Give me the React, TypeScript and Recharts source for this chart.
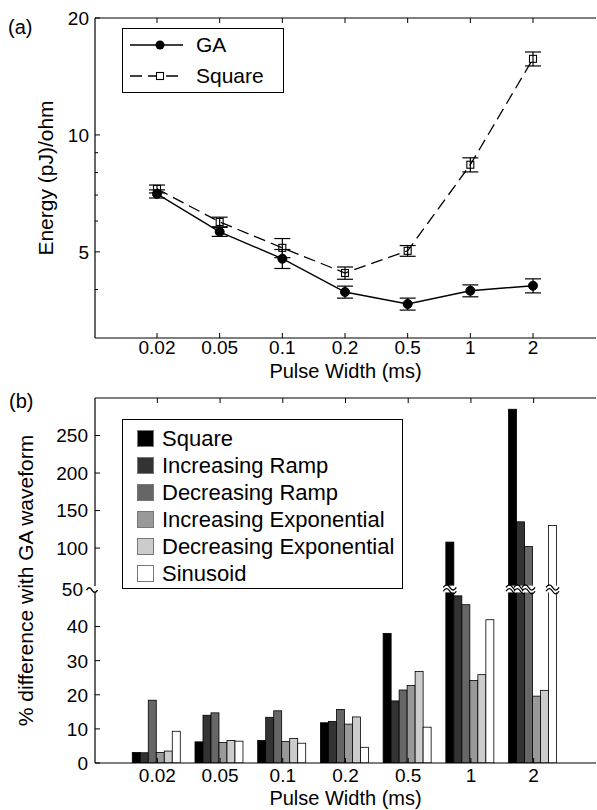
import { Bar, BarChart, ErrorBar, Legend, Line, LineChart, XAxis, YAxis } from 'recharts'

const pulseWidths = ['0.02', '0.05', '0.1', '0.2', '0.5', '1', '2']

// (a) energy per ohm (pJ/ohm), mean ± error
const gaEnergy = [7.05, 5.63, 4.8, 3.94, 3.67, 3.97, 4.09]
const gaError = [0.17, 0.15, 0.27, 0.14, 0.13, 0.14, 0.17]
const squareEnergy = [7.26, 5.97, 5.12, 4.41, 5.03, 8.38, 15.7]
const squareError = [0.17, 0.17, 0.29, 0.16, 0.16, 0.35, 0.65]

const energyTicks = [4, 5, 6, 7, 8, 9, 10, 20]
const energyTickLabels = ['', '5', '', '', '', '', '10', '20']

// (b) % difference with GA waveform
const waveforms = [
  'Square',
  'Increasing Ramp',
  'Decreasing Ramp',
  'Increasing Exponential',
  'Decreasing Exponential',
  'Sinusoid',
]
const waveformFills = ['#000000', '#333333', '#666666', '#999999', '#cccccc', '#ffffff']
const squareDiff = [3.1, 6.2, 6.6, 11.8, 38.0, 108, 285]
const incRampDiff = [3.0, 14.0, 13.4, 12.2, 18.2, 49, 135]
const decRampDiff = [18.4, 14.7, 15.3, 15.7, 21.4, 46.4, 102]
const incExpDiff = [3.1, 6.0, 6.3, 11.4, 22.7, 24.2, 19.6]
const decExpDiff = [3.5, 6.6, 7.2, 13.5, 26.8, 25.9, 21.3]
const sinusoidDiff = [9.3, 6.4, 5.8, 4.6, 10.5, 42.0, 130]
const diffSeries = [squareDiff, incRampDiff, decRampDiff, incExpDiff, decExpDiff, sinusoidDiff]

const lowerTicks = [0, 10, 20, 30, 40]
const upperTicks = [100, 150, 200, 250]
const DIFF_MAX = 300

// broken axis: below 50 linear, above 50 compressed
const BREAK_AT = 50
const BREAK_GAP = 2
const UPPER_SCALE = 0.22
const toAxis = (v: number) => (v <= BREAK_AT ? v : BREAK_AT + BREAK_GAP + (v - BREAK_AT) * UPPER_SCALE)
const BREAK_MID = BREAK_AT + BREAK_GAP / 2

const FONT = 'Arial, "Liberation Sans", Helvetica, sans-serif'
const TICK = 5
const TICK_FONT = 19
const TITLE_FONT = 20

const energyData = pulseWidths.map((pw, i) => ({
  pw,
  ga: gaEnergy[i],
  gaErr: gaError[i],
  square: squareEnergy[i],
  squareErr: squareError[i],
}))

const diffData = pulseWidths.map((pw, i) => {
  const row: Record<string, string | number> = { pw }
  diffSeries.forEach((s, k) => {
    row[`w${k}`] = toAxis(s[i])
    row[`raw${k}`] = s[i]
  })
  return row
})

const diffTicks = [...lowerTicks.map(toAxis), BREAK_MID, ...upperTicks.map(toAxis)]
const diffLabels = new Map<number, string>([
  ...lowerTicks.map((v) => [toAxis(v), String(v)] as [number, string]),
  [BREAK_MID, String(BREAK_AT)],
  ...upperTicks.map((v) => [toAxis(v), String(v)] as [number, string]),
])

const energyLabel = (v: number) => energyTickLabels[energyTicks.indexOf(v)] ?? ''

function tilde(cx: number, cy: number, w: number) {
  return `M ${cx - w / 2} ${cy} q ${w / 4} ${-w * 0.4} ${w / 2} 0 t ${w / 2} 0`
}

const bottomTick = (margin: number) => (p: any) => {
  const axisY = p.y - margin
  return (
    <g>
      <line x1={p.x} x2={p.x} y1={axisY} y2={axisY - TICK} stroke="#000" />
      <text x={p.x} y={p.y} dy="0.71em" textAnchor="middle" fontSize={TICK_FONT} fontFamily={FONT} fill="#000">
        {p.payload.value}
      </text>
    </g>
  )
}

const topTick = (p: any) => <line x1={p.x} x2={p.x} y1={p.y} y2={p.y + TICK} stroke="#000" />

const energyLeftTick = (p: any) => {
  const axisX = p.x + 6
  const text = energyLabel(p.payload.value)
  const len = text ? TICK : 3
  return (
    <g>
      <line x1={axisX} x2={axisX + len} y1={p.y} y2={p.y} stroke="#000" />
      {text && (
        <text x={p.x} y={p.y} dy="0.36em" textAnchor="end" fontSize={TICK_FONT} fontFamily={FONT} fill="#000">
          {text}
        </text>
      )}
    </g>
  )
}

const energyRightTick = (p: any) => {
  const len = energyLabel(p.payload.value) ? TICK : 3
  return <line x1={p.x} x2={p.x - len} y1={p.y} y2={p.y} stroke="#000" />
}

const diffLeftTick = (p: any) => {
  const axisX = p.x + 7
  const v = p.payload.value
  if (v === BREAK_MID) {
    return (
      <g>
        <rect x={axisX - 2} y={p.y - 3} width={4} height={6} fill="#fff" />
        <path d={tilde(axisX - 3, p.y + 1, 11)} fill="none" stroke="#000" strokeWidth={1.5} />
        <text x={p.x - 5} y={p.y} dy="0.36em" textAnchor="end" fontSize={TICK_FONT} fontFamily={FONT} fill="#000">
          {diffLabels.get(v)}
        </text>
      </g>
    )
  }
  return (
    <g>
      <line x1={axisX} x2={axisX + TICK} y1={p.y} y2={p.y} stroke="#000" />
      <text x={p.x} y={p.y} dy="0.36em" textAnchor="end" fontSize={TICK_FONT} fontFamily={FONT} fill="#000">
        {diffLabels.get(v)}
      </text>
    </g>
  )
}

const diffRightTick = (p: any) => {
  if (p.payload.value === BREAK_MID) {
    return (
      <g>
        <rect x={p.x - 2} y={p.y - 3} width={4} height={6} fill="#fff" />
        <path d={tilde(p.x, p.y + 1, 11)} fill="none" stroke="#000" strokeWidth={1.5} />
      </g>
    )
  }
  return <line x1={p.x} x2={p.x - TICK} y1={p.y} y2={p.y} stroke="#000" />
}

// bar with a white gap and tilde marks where it crosses the axis break
const brokenBar = (k: number) => (p: any) => {
  const { x, y, width, height, fill } = p
  const raw = Number(p.payload[`raw${k}`])
  const t = Number(p.payload[`w${k}`])
  const body = <rect x={x} y={y} width={width} height={height} fill={fill} stroke="#000" strokeWidth={0.8} />
  if (!(raw > BREAK_AT) || !(height > 0)) return body
  const ppu = height / t
  const base = y + height
  const yLow = base - BREAK_AT * ppu
  const yHigh = base - (BREAK_AT + BREAK_GAP) * ppu
  const mid = (yLow + yHigh) / 2
  const cx = x + width / 2
  return (
    <g>
      {body}
      <rect x={x - 1.5} y={yHigh} width={width + 3} height={yLow - yHigh} fill="#fff" />
      <path d={tilde(cx, mid - 1.6, width + 5)} fill="none" stroke="#000" strokeWidth={1.3} />
      <path d={tilde(cx, mid + 2.2, width + 5)} fill="none" stroke="#000" strokeWidth={1.3} />
    </g>
  )
}

function EnergyLegend() {
  const rows = [
    { name: 'GA', dash: undefined, marker: <circle cx={30} cy={10} r={4.5} fill="#000" /> },
    {
      name: 'Square',
      dash: '12 6',
      marker: <rect x={26.5} y={6.5} width={7} height={7} fill="#fff" stroke="#000" strokeWidth={1.1} />,
    },
  ]
  return (
    <div
      style={{
        boxSizing: 'border-box',
        width: 162,
        height: 65,
        border: '1px solid #000',
        background: '#fff',
        fontFamily: FONT,
        fontSize: 21,
        whiteSpace: 'nowrap',
      }}
    >
      {rows.map((r) => (
        <div key={r.name} style={{ display: 'flex', alignItems: 'center', height: 31, paddingLeft: 7 }}>
          <svg width={53} height={20} style={{ marginRight: 13 }}>
            <line x1={0} x2={53} y1={10} y2={10} stroke="#000" strokeWidth={1.4} strokeDasharray={r.dash} />
            {r.marker}
          </svg>
          <span>{r.name}</span>
        </div>
      ))}
    </div>
  )
}

function WaveformLegend() {
  return (
    <div
      style={{
        boxSizing: 'border-box',
        width: 281,
        height: 170,
        border: '1px solid #000',
        background: '#fff',
        fontFamily: FONT,
        fontSize: 22,
        whiteSpace: 'nowrap',
        paddingTop: 5,
      }}
    >
      {waveforms.map((w, k) => (
        <div key={w} style={{ display: 'flex', alignItems: 'center', height: 27, paddingLeft: 14 }}>
          <span
            style={{
              display: 'inline-block',
              flex: 'none',
              boxSizing: 'border-box',
              width: 17,
              height: 17,
              background: waveformFills[k],
              border: '1px solid #777',
              marginRight: 8,
            }}
          />
          <span>{w}</span>
        </div>
      ))}
    </div>
  )
}

const axisLine = { stroke: '#000', strokeWidth: 1.2 }

export default function App() {
  return (
    <div style={{ position: 'absolute', left: 0, top: 0, width: 597, height: 810, background: '#fff' }}>
      <div style={{ position: 'absolute', left: 0, top: 0 }}>
        <LineChart width={597} height={386} data={energyData} margin={{ top: 18, right: 1, bottom: 0, left: 0 }}>
          <XAxis
            dataKey="pw"
            interval={0}
            padding={{ left: 62, right: 63 }}
            height={48}
            tickSize={0}
            tickMargin={3}
            tickLine={false}
            axisLine={axisLine}
            tick={bottomTick(3)}
            label={{
              value: 'Pulse Width (ms)',
              position: 'insideBottom',
              offset: 8,
              fontSize: TITLE_FONT,
              fill: '#000',
              fontFamily: FONT,
            }}
          />
          <XAxis
            xAxisId="top"
            orientation="top"
            mirror
            dataKey="pw"
            interval={0}
            padding={{ left: 62, right: 63 }}
            tickSize={0}
            tickMargin={0}
            tickLine={false}
            axisLine={axisLine}
            tick={topTick}
          />
          <YAxis
            scale="log"
            domain={[3, 20]}
            allowDataOverflow
            ticks={energyTicks}
            interval={0}
            width={95}
            tickSize={0}
            tickMargin={6}
            tickLine={false}
            axisLine={axisLine}
            tick={energyLeftTick}
            label={{
              content: (p: any) => (
                <text
                  transform={`translate(${p.viewBox.x + 45}, ${p.viewBox.y + p.viewBox.height / 2}) rotate(-90)`}
                  textAnchor="middle"
                  dy="0.36em"
                  fontSize={21}
                  fontFamily={FONT}
                  fill="#000"
                >
                  Energy (pJ)/ohm
                </text>
              ),
            }}
          />
          <YAxis
            yAxisId="right"
            orientation="right"
            mirror
            scale="log"
            domain={[3, 20]}
            allowDataOverflow
            ticks={energyTicks}
            interval={0}
            width={0}
            tickSize={0}
            tickMargin={0}
            tickLine={false}
            axisLine={axisLine}
            tick={energyRightTick}
          />
          <Legend
            layout="horizontal"
            verticalAlign="middle"
            wrapperStyle={{ left: 122, top: 28, width: 162, height: 65 }}
            content={() => <EnergyLegend />}
          />
          <Line
            type="linear"
            dataKey="ga"
            name="GA"
            stroke="#000"
            strokeWidth={1.4}
            dot={(p: any) => <circle key={`ga-${p.index}`} cx={p.cx} cy={p.cy} r={4.5} fill="#000" stroke="#000" />}
            activeDot={false}
            isAnimationActive={false}
          >
            <ErrorBar dataKey="gaErr" width={8} stroke="#000" strokeWidth={1.2} />
          </Line>
          <Line
            type="linear"
            dataKey="square"
            name="Square"
            stroke="#000"
            strokeWidth={1.3}
            strokeDasharray="12 6"
            dot={(p: any) => (
              <rect
                key={`sq-${p.index}`}
                x={p.cx - 3.5}
                y={p.cy - 3.5}
                width={7}
                height={7}
                fill="none"
                stroke="#000"
                strokeWidth={1.1}
              />
            )}
            activeDot={false}
            isAnimationActive={false}
          >
            <ErrorBar dataKey="squareErr" width={8} stroke="#000" strokeWidth={1.2} />
          </Line>
        </LineChart>
      </div>

      <div style={{ position: 'absolute', left: 0, top: 380 }}>
        <BarChart
          width={597}
          height={430}
          data={diffData}
          margin={{ top: 18, right: 1, bottom: 0, left: 0 }}
          barCategoryGap="10%"
          barGap={0}
        >
          <XAxis
            dataKey="pw"
            interval={0}
            padding={{ left: 31, right: 31 }}
            height={47}
            tickSize={0}
            tickMargin={6}
            tickLine={false}
            axisLine={axisLine}
            tick={bottomTick(6)}
            label={{
              value: 'Pulse Width (ms)',
              position: 'insideBottom',
              offset: 5,
              fontSize: TITLE_FONT,
              fill: '#000',
              fontFamily: FONT,
            }}
          />
          <XAxis
            xAxisId="top"
            orientation="top"
            mirror
            dataKey="pw"
            interval={0}
            padding={{ left: 31, right: 31 }}
            tickSize={0}
            tickMargin={0}
            tickLine={false}
            axisLine={axisLine}
            tick={topTick}
          />
          <YAxis
            type="number"
            domain={[0, toAxis(DIFF_MAX)]}
            allowDataOverflow
            ticks={diffTicks}
            interval={0}
            width={95}
            tickSize={0}
            tickMargin={7}
            tickLine={false}
            axisLine={axisLine}
            tick={diffLeftTick}
            label={{
              content: (p: any) => (
                <text
                  transform={`translate(${p.viewBox.x + 25}, ${p.viewBox.y + p.viewBox.height / 2}) rotate(-90)`}
                  textAnchor="middle"
                  dy="0.36em"
                  fontSize={21}
                  fontFamily={FONT}
                  fill="#000"
                >
                  % difference with GA waveform
                </text>
              ),
            }}
          />
          <YAxis
            yAxisId="right"
            orientation="right"
            mirror
            type="number"
            domain={[0, toAxis(DIFF_MAX)]}
            allowDataOverflow
            ticks={diffTicks}
            interval={0}
            width={0}
            tickSize={0}
            tickMargin={0}
            tickLine={false}
            axisLine={axisLine}
            tick={diffRightTick}
          />
          <Legend
            layout="horizontal"
            verticalAlign="middle"
            wrapperStyle={{ left: 122, top: 39, width: 281, height: 170 }}
            content={() => <WaveformLegend />}
          />
          {waveforms.map((w, k) => (
            <Bar
              key={w}
              dataKey={`w${k}`}
              name={w}
              fill={waveformFills[k]}
              stroke="#000"
              strokeWidth={0.8}
              shape={brokenBar(k)}
              isAnimationActive={false}
            />
          ))}
        </BarChart>
      </div>

      <div style={{ position: 'absolute', left: 8, top: 16, fontFamily: FONT, fontSize: 20 }}>(a)</div>
      <div style={{ position: 'absolute', left: 9, top: 390, fontFamily: FONT, fontSize: 20 }}>(b)</div>
    </div>
  )
}
